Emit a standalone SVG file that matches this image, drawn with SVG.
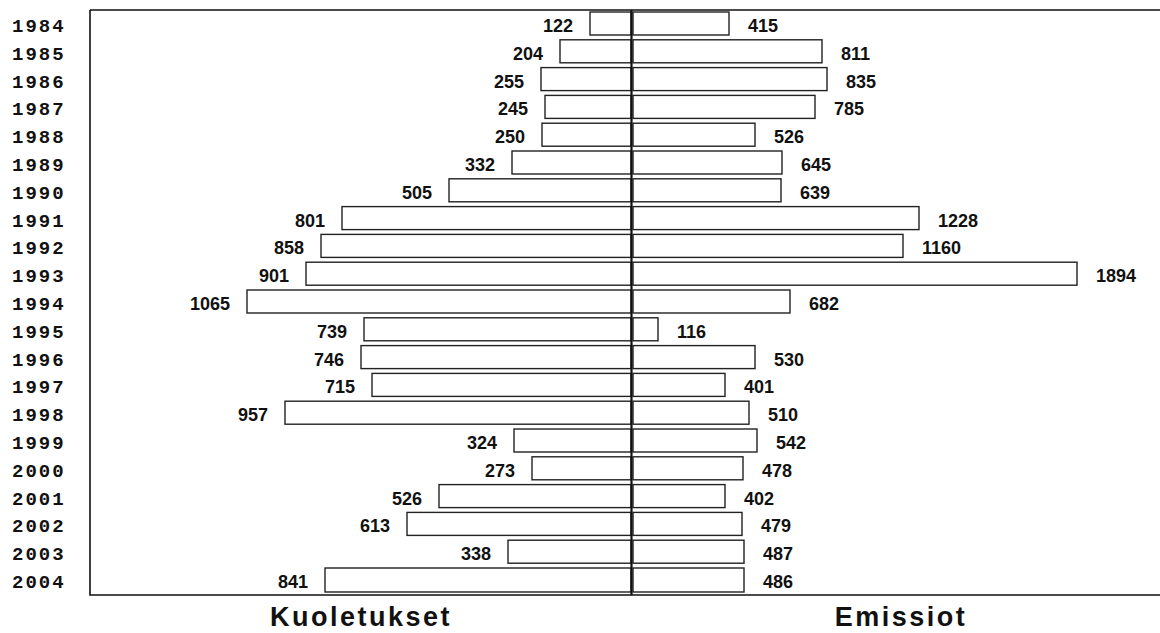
<svg xmlns="http://www.w3.org/2000/svg" width="1160" height="633" viewBox="0 0 1160 633">
<style>
.yr{font-family:"Liberation Mono",monospace;font-weight:bold;font-size:19px;letter-spacing:2px;fill:#111}
.v{font-family:"Liberation Sans",Arial,sans-serif;font-weight:bold;font-size:18px;fill:#111}
.l{text-anchor:end}
.bar{fill:#fff;stroke:#222;stroke-width:1.4}
.ax{stroke:#111;stroke-width:1.6;fill:none}
.t{font-family:"Liberation Sans",Arial,sans-serif;font-weight:bold;font-size:27px;letter-spacing:2.5px;fill:#111;text-anchor:middle}
</style>
<rect width="1160" height="633" fill="#fff"/>
<g id="axes">
<path class="ax" d="M90,10 H1160 M90,10 V595 H1160"/>
</g>
<g id="years">
<text class="yr" x="12" y="32">1984</text>
<text class="yr" x="12" y="59.8">1985</text>
<text class="yr" x="12" y="87.6">1986</text>
<text class="yr" x="12" y="115.4">1987</text>
<text class="yr" x="12" y="143.2">1988</text>
<text class="yr" x="12" y="171">1989</text>
<text class="yr" x="12" y="198.8">1990</text>
<text class="yr" x="12" y="226.6">1991</text>
<text class="yr" x="12" y="254.4">1992</text>
<text class="yr" x="12" y="282.2">1993</text>
<text class="yr" x="12" y="310">1994</text>
<text class="yr" x="12" y="337.8">1995</text>
<text class="yr" x="12" y="365.6">1996</text>
<text class="yr" x="12" y="393.4">1997</text>
<text class="yr" x="12" y="421.2">1998</text>
<text class="yr" x="12" y="449">1999</text>
<text class="yr" x="12" y="476.8">2000</text>
<text class="yr" x="12" y="504.6">2001</text>
<text class="yr" x="12" y="532.4">2002</text>
<text class="yr" x="12" y="560.2">2003</text>
<text class="yr" x="12" y="588">2004</text>
</g>
<g id="kuoletukset">
<rect class="bar" x="590" y="12" width="41" height="23"/><text class="v l" x="573" y="32">122</text>
<rect class="bar" x="560" y="39.8" width="71" height="23"/><text class="v l" x="543" y="59.8">204</text>
<rect class="bar" x="541" y="67.6" width="90" height="23"/><text class="v l" x="524" y="87.6">255</text>
<rect class="bar" x="545" y="95.4" width="86" height="23"/><text class="v l" x="528" y="115.4">245</text>
<rect class="bar" x="542" y="123.2" width="89" height="23"/><text class="v l" x="525" y="143.2">250</text>
<rect class="bar" x="512" y="151" width="119" height="23"/><text class="v l" x="495" y="171">332</text>
<rect class="bar" x="449" y="178.8" width="182" height="23"/><text class="v l" x="432" y="198.8">505</text>
<rect class="bar" x="342" y="206.6" width="289" height="23"/><text class="v l" x="325" y="226.6">801</text>
<rect class="bar" x="321" y="234.4" width="310" height="23"/><text class="v l" x="304" y="254.4">858</text>
<rect class="bar" x="306" y="262.2" width="325" height="23"/><text class="v l" x="289" y="282.2">901</text>
<rect class="bar" x="247" y="290" width="384" height="23"/><text class="v l" x="230" y="310">1065</text>
<rect class="bar" x="364" y="317.8" width="267" height="23"/><text class="v l" x="347" y="337.8">739</text>
<rect class="bar" x="361" y="345.6" width="270" height="23"/><text class="v l" x="344" y="365.6">746</text>
<rect class="bar" x="372" y="373.4" width="259" height="23"/><text class="v l" x="355" y="393.4">715</text>
<rect class="bar" x="285" y="401.2" width="346" height="23"/><text class="v l" x="268" y="421.2">957</text>
<rect class="bar" x="514" y="429" width="117" height="23"/><text class="v l" x="497" y="449">324</text>
<rect class="bar" x="532" y="456.8" width="99" height="23"/><text class="v l" x="515" y="476.8">273</text>
<rect class="bar" x="439" y="484.6" width="192" height="23"/><text class="v l" x="422" y="504.6">526</text>
<rect class="bar" x="407" y="512.4" width="224" height="23"/><text class="v l" x="390" y="532.4">613</text>
<rect class="bar" x="508" y="540.2" width="123" height="23"/><text class="v l" x="491" y="560.2">338</text>
<rect class="bar" x="325" y="568" width="306" height="24"/><text class="v l" x="308" y="588">841</text>
</g>
<g id="emissiot">
<rect class="bar" x="633" y="12" width="96" height="23"/><text class="v" x="748" y="32">415</text>
<rect class="bar" x="633" y="39.8" width="189" height="23"/><text class="v" x="841" y="59.8">811</text>
<rect class="bar" x="633" y="67.6" width="194" height="23"/><text class="v" x="846" y="87.6">835</text>
<rect class="bar" x="633" y="95.4" width="182" height="23"/><text class="v" x="834" y="115.4">785</text>
<rect class="bar" x="633" y="123.2" width="122" height="23"/><text class="v" x="774" y="143.2">526</text>
<rect class="bar" x="633" y="151" width="149" height="23"/><text class="v" x="801" y="171">645</text>
<rect class="bar" x="633" y="178.8" width="148" height="23"/><text class="v" x="800" y="198.8">639</text>
<rect class="bar" x="633" y="206.6" width="286" height="23"/><text class="v" x="938" y="226.6">1228</text>
<rect class="bar" x="633" y="234.4" width="270" height="23"/><text class="v" x="922" y="254.4">1160</text>
<rect class="bar" x="633" y="262.2" width="444" height="23"/><text class="v" x="1096" y="282.2">1894</text>
<rect class="bar" x="633" y="290" width="157" height="23"/><text class="v" x="809" y="310">682</text>
<rect class="bar" x="633" y="317.8" width="25" height="23"/><text class="v" x="677" y="337.8">116</text>
<rect class="bar" x="633" y="345.6" width="122" height="23"/><text class="v" x="774" y="365.6">530</text>
<rect class="bar" x="633" y="373.4" width="92" height="23"/><text class="v" x="744" y="393.4">401</text>
<rect class="bar" x="633" y="401.2" width="116" height="23"/><text class="v" x="768" y="421.2">510</text>
<rect class="bar" x="633" y="429" width="124" height="23"/><text class="v" x="776" y="449">542</text>
<rect class="bar" x="633" y="456.8" width="110" height="23"/><text class="v" x="762" y="476.8">478</text>
<rect class="bar" x="633" y="484.6" width="92" height="23"/><text class="v" x="744" y="504.6">402</text>
<rect class="bar" x="633" y="512.4" width="109" height="23"/><text class="v" x="761" y="532.4">479</text>
<rect class="bar" x="633" y="540.2" width="111" height="23"/><text class="v" x="763" y="560.2">487</text>
<rect class="bar" x="633" y="568" width="111" height="24"/><text class="v" x="763" y="588">486</text>
</g>
<g id="center">
<line x1="631.5" y1="10" x2="631.5" y2="595" stroke="#111" stroke-width="2.2"/>
</g>
<g id="titles">
<text class="t" x="361" y="626">Kuoletukset</text>
<text class="t" x="901" y="626">Emissiot</text>
</g>
</svg>
